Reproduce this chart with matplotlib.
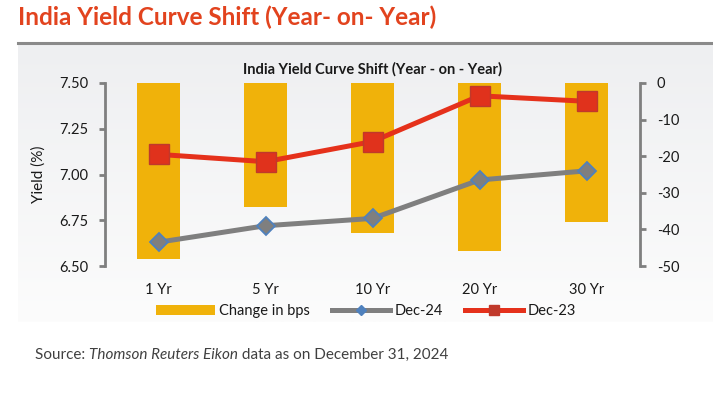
import numpy as np
import matplotlib
matplotlib.use("Agg")
import matplotlib.pyplot as plt
from matplotlib.patches import Patch
from matplotlib.lines import Line2D
from matplotlib.colors import LinearSegmentedColormap

# --- data ---
tenors = ["1 Yr", "5 Yr", "10 Yr", "20 Yr", "30 Yr"]
dec_24 = [6.63, 6.72, 6.76, 6.97, 7.02]
dec_23 = [7.11, 7.07, 7.18, 7.43, 7.40]
change_bps = [-48, -34, -41, -46, -38]
left_ticks = [6.50, 6.75, 7.00, 7.25, 7.50]
right_ticks = [0, -10, -20, -30, -40, -50]

plt.rcParams["font.family"] = ["Lato", "DejaVu Sans"]

BAR = "#F0B20A"
RED = "#E5311B"
GREY = "#7F7F7F"
SPINE = "#7F7F7F"
TXT = "#1a1a1a"

fig = plt.figure(figsize=(7.13, 3.96), dpi=100)
fig.patch.set_facecolor("white")

# --- panel background (light grey gradient) ---
bg = fig.add_axes([18 / 713, 1 - 322 / 396, 1 - 18 / 713, (322 - 43) / 396], zorder=-10)
grad = np.linspace(0, 1, 200).reshape(-1, 1)
cmap = LinearSegmentedColormap.from_list("bg", ["#eeeff1", "#fcfcfc"])
bg.imshow(grad, aspect="auto", cmap=cmap, extent=[0, 1, 0, 1], origin="upper")
bg.axis("off")
fig.add_artist(Line2D([18 / 713, 1], [1 - 43 / 396, 1 - 43 / 396], color="#8a8a8a", lw=2.2))

# --- main title ---
fig.text(18 / 713, 1 - 17 / 396, "India Yield Curve Shift (Year- on- Year)",
         color="#E2431E", fontsize=17.5, fontweight="bold", va="center", ha="left")

# --- axes ---
ax = fig.add_axes([105 / 713, 1 - 266 / 396, (640 - 105) / 713, (266 - 83) / 396])
ax_b = ax.twinx()
ax.set_zorder(ax_b.get_zorder() + 1)
ax.patch.set_visible(False)
ax_b.patch.set_visible(False)

x = np.arange(len(tenors))
ax_b.bar(x, change_bps, width=0.4, color=BAR, zorder=1)
ax_b.set_ylim(-50, 0)
ax_b.set_yticks(right_ticks)
ax_b.set_yticklabels([str(v) for v in right_ticks])

ax.plot(x, dec_24, color=GREY, lw=3.6, marker="D", ms=9.5,
        mfc=GREY, mec="#4F81BD", mew=1.3, zorder=3)
ax.plot(x, dec_23, color=RED, lw=3.6, marker="s", ms=14,
        mfc="#E0321C", mec="#C0392B", mew=1.0, zorder=4)
ax.set_ylim(6.5, 7.5)
ax.set_xlim(-0.5, 4.5)
ax.set_yticks(left_ticks)
ax.set_yticklabels([f"{v:.2f}" for v in left_ticks])
ax.set_xticks(x)
ax.set_xticklabels(tenors)
ax.set_ylabel("Yield (%)", fontsize=11, color=TXT, labelpad=10)

for a in (ax, ax_b):
    for s in a.spines.values():
        s.set_visible(False)
ax.spines["left"].set_visible(True)
ax.spines["left"].set_color(SPINE)
ax.spines["left"].set_linewidth(2)
ax_b.spines["right"].set_visible(True)
ax_b.spines["right"].set_color(SPINE)
ax_b.spines["right"].set_linewidth(2)

ax.tick_params(axis="y", direction="out", length=4, width=2, color=SPINE,
               labelsize=10.5, labelcolor=TXT, pad=8)
ax_b.tick_params(axis="y", direction="out", length=4, width=2, color=SPINE,
                 labelsize=10.5, labelcolor=TXT, pad=8)
ax.tick_params(axis="x", length=0, labelsize=10.5, labelcolor=TXT, pad=12)
ax_b.tick_params(axis="x", length=0, labelbottom=False)

ax.set_title("India Yield Curve Shift (Year - on - Year)", fontsize=10.5,
             fontweight="bold", color=TXT, pad=7)

# --- legend ---
handles = [
    Patch(facecolor=BAR, edgecolor="none"),
    Line2D([], [], color=GREY, lw=3.6, marker="D", ms=5, mfc="#4F81BD", mec="#4F81BD"),
    Line2D([], [], color=RED, lw=3.6, marker="s", ms=7, mfc="#C0392B", mec="#C0392B"),
]
fig.legend(handles, ["Change in bps", "Dec-24", "Dec-23"], loc="center",
           bbox_to_anchor=(366 / 713, 1 - 311 / 396), ncol=3, frameon=False,
           fontsize=10.5, handlelength=4, handletextpad=0.3, columnspacing=1.5,
           labelcolor=TXT)

# --- source note ---
t1 = fig.text(35 / 713, 1 - 362 / 396, "Source: ", fontsize=11, color="#404040",
              ha="left", va="bottom")
a2 = fig.add_artist(plt.Annotation("Thomson Reuters Eikon", xy=(1, 0), xycoords=t1,
                                   fontsize=11, color="#404040", style="italic",
                                   ha="left", va="bottom"))
fig.add_artist(plt.Annotation(" data as on December 31, 2024", xy=(1, 0), xycoords=a2,
                              fontsize=11, color="#404040", ha="left", va="bottom"))

fig.savefig("out.png", dpi=100)
